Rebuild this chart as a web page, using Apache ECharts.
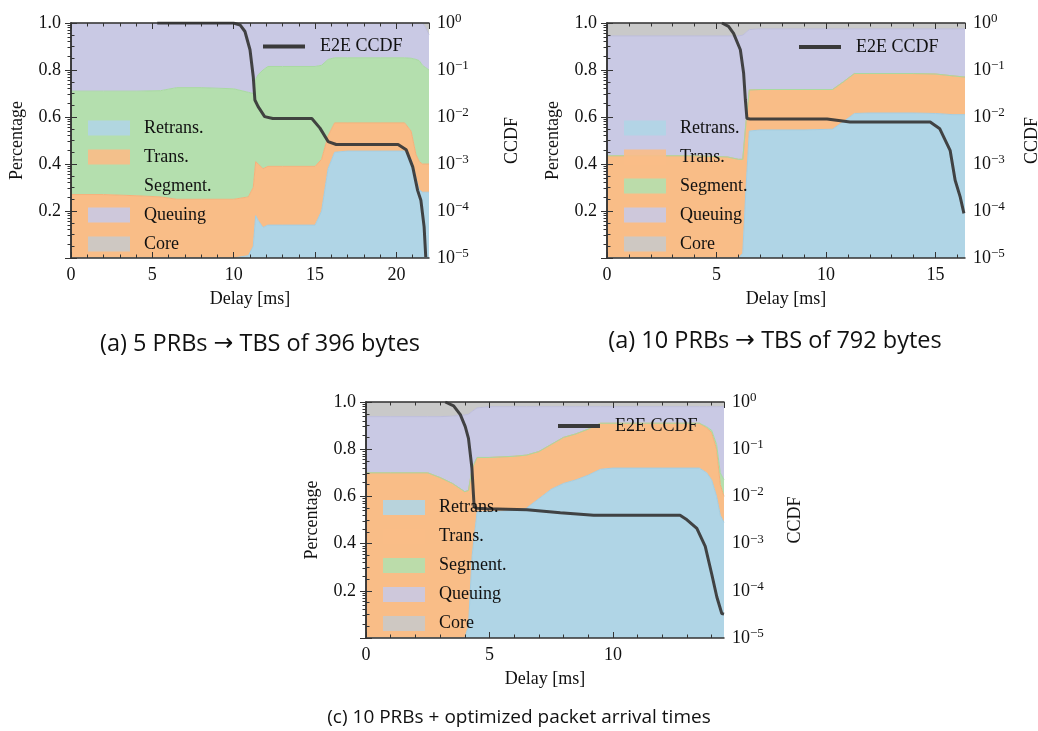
<!DOCTYPE html>
<html><head><meta charset="utf-8">
<script src="https://cdn.jsdelivr.net/npm/echarts@6.0.0/dist/echarts.min.js"></script>
<style>html,body{margin:0;padding:0;background:#fff}#c{width:1038px;height:731px}</style>
</head><body><div id="c"></div><script>
// ---------- data ----------
const categories = ['Retrans.', 'Trans.', 'Segment.', 'Queuing', 'Core'];
const lineName = 'E2E CCDF';

// (a) 5 PRBs
const xA = [0, 2, 4, 5.5, 6.5, 8, 10, 10.9, 11.2, 11.35, 11.5, 11.8, 12.1, 13, 15, 15.4, 15.8, 16.2, 17, 19, 20.5, 20.9, 21.2, 21.4, 21.6, 21.8, 22];
const retransA = [0, 0, 0, 0, 0, 0, 0, 0.01, 0.05, 0.18, 0.16, 0.13, 0.14, 0.14, 0.14, 0.20, 0.38, 0.45, 0.455, 0.455, 0.455, 0.42, 0.34, 0.29, 0.28, 0.28, 0.28];
const transA = [0.27, 0.27, 0.265, 0.26, 0.25, 0.25, 0.25, 0.25, 0.25, 0.23, 0.24, 0.25, 0.25, 0.25, 0.25, 0.22, 0.14, 0.125, 0.12, 0.12, 0.12, 0.12, 0.10, 0.12, 0.12, 0.12, 0.12];
const segmentA = [0.44, 0.44, 0.445, 0.452, 0.475, 0.475, 0.47, 0.445, 0.40, 0.35, 0.38, 0.42, 0.425, 0.425, 0.425, 0.40, 0.325, 0.277, 0.277, 0.277, 0.277, 0.31, 0.405, 0.43, 0.42, 0.41, 0.40];
const queuingA = [0.29, 0.29, 0.29, 0.288, 0.275, 0.275, 0.28, 0.295, 0.30, 0.24, 0.22, 0.20, 0.185, 0.185, 0.185, 0.18, 0.155, 0.148, 0.148, 0.148, 0.148, 0.15, 0.155, 0.16, 0.18, 0.17, 0.15];
const coreA = [0, 0, 0, 0, 0, 0, 0, 0, 0, 0, 0, 0, 0, 0, 0, 0, 0, 0, 0, 0, 0, 0, 0, 0, 0, 0.02, 0.05];
const ccdfXA = [5.3, 9.98, 10.4, 10.69, 11.0, 11.2, 11.3, 11.5, 11.9, 12.4, 14.8, 15.3, 15.8, 16.3, 20.1, 20.6, 21.0, 21.3, 21.5, 21.7, 21.8];
const ccdfA = [1, 1, 0.9, 0.66, 0.27, 0.072, 0.023, 0.0166, 0.0102, 0.0093, 0.0093, 0.0058, 0.0030, 0.0026, 0.0026, 0.0020, 0.00087, 0.000275, 0.00017, 0.000046, 0.0000105];

// (b) 10 PRBs
const xB = [0, 2, 4, 5.5, 6.0, 6.2, 6.35, 6.5, 7, 9, 10.3, 10.8, 11.3, 12, 14, 15, 15.8, 16.35];
const retransB = [0, 0, 0, 0, 0, 0.02, 0.30, 0.54, 0.545, 0.545, 0.548, 0.58, 0.615, 0.617, 0.617, 0.615, 0.61, 0.61];
const transB = [0.435, 0.435, 0.435, 0.43, 0.42, 0.40, 0.28, 0.175, 0.172, 0.172, 0.169, 0.17, 0.17, 0.168, 0.168, 0.168, 0.165, 0.16];
const segmentB = [0, 0, 0, 0, 0, 0, 0, 0, 0, 0, 0, 0, 0, 0, 0, 0, 0, 0];
const queuingB = [0.51, 0.51, 0.51, 0.515, 0.525, 0.528, 0.38, 0.257, 0.258, 0.258, 0.258, 0.225, 0.19, 0.19, 0.19, 0.192, 0.20, 0.205];
const coreB = [0.055, 0.055, 0.055, 0.055, 0.055, 0.052, 0.04, 0.028, 0.025, 0.025, 0.025, 0.025, 0.025, 0.025, 0.025, 0.025, 0.025, 0.025];
const ccdfXB = [5.25, 5.55, 5.78, 6.09, 6.24, 6.32, 6.39, 6.54, 10.05, 11.1, 14.76, 15.2, 15.67, 15.9, 16.13, 16.3];
const ccdfB = [1, 0.85, 0.6, 0.27, 0.085, 0.023, 0.0093, 0.0091, 0.0091, 0.0078, 0.0078, 0.0056, 0.00195, 0.00045, 0.0002, 0.000089];

// (c) 10 PRBs + optimized arrival
const xC = [0, 1, 2.5, 3, 3.5, 4.0, 4.15, 4.3, 4.5, 5, 6, 6.5, 7, 7.5, 8, 8.5, 9, 9.5, 10, 12, 13.5, 13.8, 14.0, 14.2, 14.35, 14.5];
const retransC = [0, 0, 0, 0, 0, 0, 0.05, 0.35, 0.535, 0.535, 0.54, 0.55, 0.59, 0.63, 0.655, 0.67, 0.69, 0.715, 0.72, 0.72, 0.72, 0.70, 0.67, 0.60, 0.52, 0.49];
const transC = [0.70, 0.70, 0.70, 0.68, 0.655, 0.62, 0.575, 0.37, 0.23, 0.23, 0.23, 0.225, 0.20, 0.19, 0.195, 0.195, 0.195, 0.195, 0.19, 0.19, 0.19, 0.19, 0.20, 0.20, 0.13, 0.11];
const segmentC = [0, 0, 0, 0, 0, 0, 0, 0, 0, 0, 0, 0, 0, 0, 0, 0, 0, 0, 0, 0, 0, 0.005, 0.01, 0.02, 0.05, 0.07];
const queuingC = [0.238, 0.238, 0.238, 0.258, 0.285, 0.325, 0.323, 0.24, 0.21, 0.215, 0.21, 0.205, 0.19, 0.16, 0.13, 0.115, 0.095, 0.07, 0.07, 0.07, 0.07, 0.085, 0.10, 0.16, 0.28, 0.31];
const coreC = [0.062, 0.062, 0.062, 0.062, 0.06, 0.055, 0.052, 0.04, 0.025, 0.02, 0.02, 0.02, 0.02, 0.02, 0.02, 0.02, 0.02, 0.02, 0.02, 0.02, 0.02, 0.02, 0.02, 0.02, 0.02, 0.02];
const ccdfXC = [3.21, 3.55, 3.82, 4.02, 4.15, 4.29, 4.38, 4.5, 4.9, 6.52, 7.87, 9.22, 12.72, 13.0, 13.4, 13.74, 14.0, 14.21, 14.41, 14.5];
const ccdfC = [1, 0.83, 0.54, 0.3, 0.17, 0.04, 0.006, 0.0056, 0.0055, 0.0052, 0.0045, 0.004, 0.004, 0.0032, 0.0021, 0.00087, 0.00023, 0.000074, 0.000033, 0.000032];

// ticks
const logMajorTicks = [1e-5, 1e-4, 1e-3, 1e-2, 1e-1, 1];
const logMinorMult = [2, 3, 4, 5, 6, 7, 8, 9];
const pctMinorTicks = [0.05, 0.1, 0.15, 0.25, 0.3, 0.35, 0.45, 0.5, 0.55, 0.65, 0.7, 0.75, 0.85, 0.9, 0.95];
const captions = ['(a) 5 PRBs \u2192 TBS of 396 bytes', '(a) 10 PRBs \u2192 TBS of 792 bytes', '(c) 10 PRBs + optimized packet arrival times'];

// ---------- styles / layout ----------
const fills = ['#b0d5e6', '#f9bd87', '#b4dfae', '#c9c9e4', '#c9c9c9'];
const edges = ['#a3cde2', '#f6b07a', '#a8d9a1', '#bdbddc', '#bdbdbd'];
const fam = "'Liberation Serif','DejaVu Serif',serif";
const capFam = "'Open Sans','Noto Sans',sans-serif";
const frame = '#333';

const panels = [
  { x: xA, comps: [retransA, transA, segmentA, queuingA, coreA], lx: ccdfXA, ly: ccdfA, xmax: 22,
    left: 71, top: 23, width: 358, height: 235, leg: [88, 119], e2e: [263, 37.5], ccdfGap: 74, cap: [260, 344], capSize: 23.5 },
  { x: xB, comps: [retransB, transB, segmentB, queuingB, coreB], lx: ccdfXB, ly: ccdfB, xmax: 16.35,
    left: 607, top: 23, width: 358, height: 235, leg: [624, 119], e2e: [799, 38], ccdfGap: 58, cap: [775, 341], capSize: 23.5 },
  { x: xC, comps: [retransC, transC, segmentC, queuingC, coreC], lx: ccdfXC, ly: ccdfC, xmax: 14.5,
    left: 366, top: 402, width: 358, height: 236, leg: [383, 498.5], e2e: [558, 417], ccdfGap: 62, cap: [519, 718], capSize: 19 }
];

const logMinorTicks = [];
logMajorTicks.slice(0, -1).forEach(d => logMinorMult.forEach(m => logMinorTicks.push(d * m)));

const grid = [], xAxis = [], yAxis = [], series = [], legend = [], graphic = [];
const lbl = { fontFamily: fam, fontSize: 18, color: '#111' };
const tickLine = { color: frame, width: 1 };
const noLine = { show: false };

panels.forEach((p, g) => {
  grid.push({ left: p.left, top: p.top, width: p.width, height: p.height, containLabel: false, outerBoundsMode: 'none' });
  const xMinor = [];
  for (let v = 1; v < p.xmax; v++) if (v % 5) xMinor.push(v);
  const xBase = { type: 'value', gridIndex: g, min: 0, max: p.xmax, z: 10, splitLine: noLine };
  xAxis.push(Object.assign({}, xBase, {
    position: 'bottom', interval: 5,
    axisLine: { show: true, lineStyle: { color: frame, width: 1.5 } },
    axisTick: { show: true, inside: true, length: 6, lineStyle: tickLine },
    axisLabel: Object.assign({ margin: 8, showMaxLabel: false }, lbl),
    name: 'Delay [ms]', nameLocation: 'middle', nameGap: 32, nameTextStyle: lbl
  }));
  xAxis.push(Object.assign({}, xBase, {
    position: 'bottom', axisLine: noLine, axisLabel: noLine,
    axisTick: { show: true, inside: true, length: 3.5, customValues: xMinor, lineStyle: tickLine }
  }));
  xAxis.push(Object.assign({}, xBase, {
    position: 'top', interval: 5,
    axisLine: { show: true, lineStyle: { color: frame, width: 1.5 } },
    axisTick: { show: true, inside: true, length: 6, lineStyle: tickLine },
    axisLabel: noLine
  }));
  xAxis.push(Object.assign({}, xBase, {
    position: 'top', axisLine: noLine, axisLabel: noLine,
    axisTick: { show: true, inside: true, length: 3.5, customValues: xMinor, lineStyle: tickLine }
  }));

  yAxis.push({
    type: 'value', gridIndex: g, min: 0, max: 1, interval: 0.2, position: 'left', z: 10,
    axisLine: { show: true, lineStyle: { color: frame, width: 1.5 } },
    axisTick: { show: true, inside: true, length: 6, lineStyle: tickLine },
    splitLine: noLine,
    axisLabel: Object.assign({ margin: 10, formatter: v => v === 0 ? '' : v.toFixed(1) }, lbl),
    name: 'Percentage', nameLocation: 'middle', nameGap: 45, nameTextStyle: lbl
  });
  yAxis.push({
    type: 'value', gridIndex: g, min: 0, max: 1, position: 'left', z: 10,
    axisLine: noLine, axisLabel: noLine, splitLine: noLine,
    axisTick: { show: true, inside: true, length: 3.5, customValues: pctMinorTicks, lineStyle: tickLine }
  });
  yAxis.push({
    type: 'log', logBase: 10, gridIndex: g, min: 1e-5, max: 1, position: 'right', z: 10,
    axisLine: { show: true, lineStyle: { color: frame, width: 1.5 } },
    axisTick: { show: true, inside: true, length: 6, customValues: logMajorTicks, lineStyle: tickLine },
    splitLine: noLine,
    axisLabel: {
      margin: 8, customValues: logMajorTicks,
      formatter: v => { const e = Math.round(Math.log10(v)); return '{b|10}{s|' + (e < 0 ? '\u2212' + (-e) : e) + '}'; },
      rich: {
        b: { fontFamily: fam, fontSize: 18, color: '#111', lineHeight: 22 },
        s: { fontFamily: fam, fontSize: 13, color: '#111', verticalAlign: 'top', lineHeight: 13 }
      }
    },
    name: 'CCDF', nameLocation: 'middle', nameRotate: 90, nameGap: p.ccdfGap, nameTextStyle: lbl
  });
  yAxis.push({
    type: 'log', logBase: 10, gridIndex: g, min: 1e-5, max: 1, position: 'right', z: 10,
    axisLine: noLine, axisLabel: noLine, splitLine: noLine,
    axisTick: { show: true, inside: true, length: 3.5, customValues: logMinorTicks, lineStyle: tickLine }
  });

  categories.forEach((name, k) => {
    series.push({
      type: 'line', name: name, xAxisIndex: 4 * g, yAxisIndex: 4 * g, stack: 'st' + g,
      symbol: 'none', showSymbol: false, smooth: false,
      encode: { x: 1, y: 0 },
      itemStyle: { color: fills[k] },
      lineStyle: { width: 1, color: edges[k] },
      areaStyle: { color: fills[k], opacity: 1 },
      data: p.x.map((x, i) => [p.comps[k][i], x]),
      z: 2
    });
  });
  series.push({
    type: 'line', name: lineName, xAxisIndex: 4 * g, yAxisIndex: 4 * g + 2,
    symbol: 'none', showSymbol: false,
    itemStyle: { color: '#3a3a3a' },
    lineStyle: { width: 3, color: '#3a3a3a', opacity: 0.95 },
    data: p.lx.map((x, i) => [x, p.ly[i]]),
    z: 5
  });

  legend.push({
    left: p.leg[0], top: p.leg[1], orient: 'vertical', itemWidth: 42, itemHeight: 15, itemGap: 11,
    selectedMode: false, icon: 'rect', padding: 0, z: 8,
    textStyle: { fontFamily: fam, fontSize: 18, color: '#111', padding: [0, 0, 0, 9], lineHeight: 15 },
    data: categories.map((n, k) => ({ name: n, icon: 'rect', itemStyle: { color: fills[k], borderWidth: 0, opacity: 0.9 } }))
  });
  legend.push({
    left: p.e2e[0], top: p.e2e[1], orient: 'vertical', itemWidth: 42, itemHeight: 4,
    selectedMode: false, padding: 0, z: 8,
    textStyle: { fontFamily: fam, fontSize: 18, color: '#111', padding: [0, 0, 0, 10], lineHeight: 15 },
    data: [{ name: lineName, icon: 'rect', itemStyle: { color: '#3a3a3a', borderWidth: 0 } }]
  });

  const parts = captions[g].split('\u2192');
  const richText = parts.length > 1
    ? '{n|' + parts[0] + '}{m|\u2192}{n|' + parts[1] + '}'
    : '{n|' + parts[0] + '}';
  graphic.push({
    type: 'text', x: p.cap[0], y: p.cap[1],
    style: {
      text: richText, textAlign: 'center', textVerticalAlign: 'middle',
      rich: {
        n: { fontFamily: capFam, fontSize: p.capSize, fill: '#111', color: '#111' },
        m: { fontFamily: "'DejaVu Sans',sans-serif", fontSize: p.capSize, fill: '#111', color: '#111' }
      }
    }
  });
});

const chart = echarts.init(document.getElementById('c'), null, { renderer: 'canvas' });
chart.setOption({
  animation: false,
  backgroundColor: '#fff',
  grid, xAxis, yAxis, series, legend, graphic,
  tooltip: { show: false }
});
</script></body></html>
